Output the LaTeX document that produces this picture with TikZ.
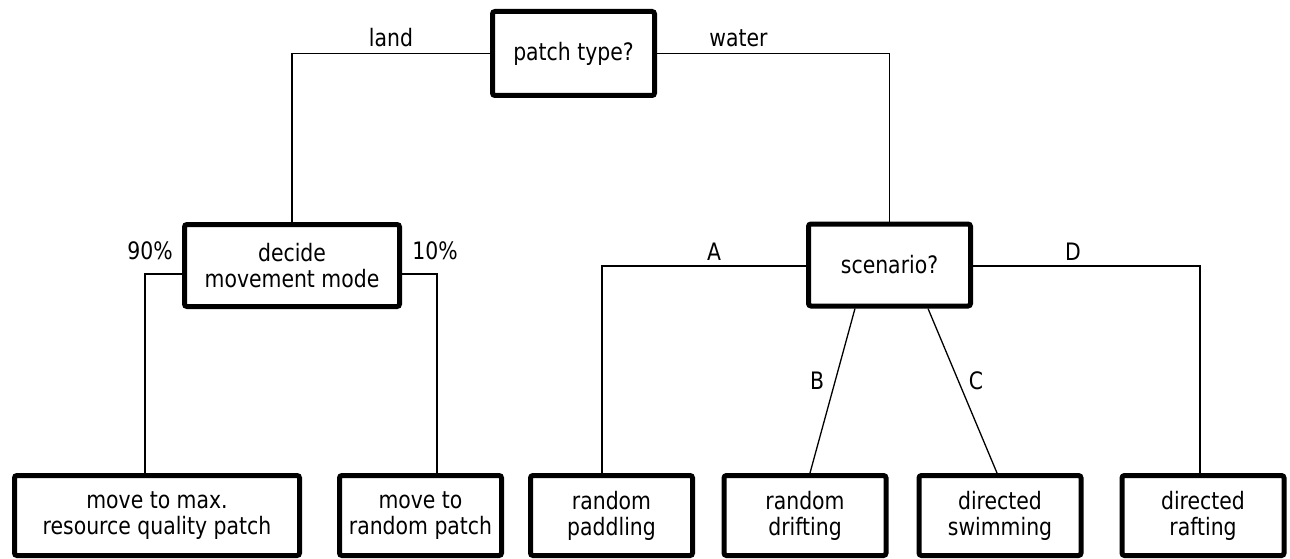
\documentclass[tikz,border=0pt]{standalone}
\usepackage{fontspec}
\setmainfont{DejaVu Sans}[FakeStretch=0.85]
\usepackage{tikz}
\usetikzlibrary{
arrows.meta,
positioning
}
\definecolor{treeink}{RGB}{0,0,0}

\begin{document}
\begin{tikzpicture}[
  x=1pt, y=-1pt,
  every node/.style={font=\fontsize{24}{26}\selectfont, text=treeink},
  box/.style={draw=treeink, line width=5pt, rounded corners=2.5pt,
    align=center, inner sep=0pt, minimum width=162pt, minimum height=80pt},
  link/.style={draw=treeink, line width=1.3pt}
]
\useasboundingbox (0,0) rectangle (1290,559);

%% ── DECISION NODES ──────────────────────────────────────────────
\node[box, minimum height=84pt] (patch) at (573.5,53.5) {patch type?};
\node[box, minimum width=215pt, minimum height=82pt] (decide) at (292,265.5) {decide\\movement mode};
\node[box, minimum height=82pt] (scen) at (889.5,265) {scenario?};

%% ── MOVEMENT OUTCOMES ───────────────────────────────────────────
\node[box, minimum width=285pt] (maxq) at (157,515.5) {move to max.\\resource quality patch};
\node[box] (rndp)  at (420.5,515.5) {move to\\random patch};
\node[box] (paddl) at (611.5,515.5) {random\\paddling};
\node[box] (drift) at (805,515.5)   {random\\drifting};
\node[box] (swim)  at (1000,515.5)  {directed\\swimming};
\node[box] (raft)  at (1203,515.5)  {directed\\rafting};

%% ── LAND / WATER ────────────────────────────────────────────────
\draw[link] (patch.west) -| (decide.north)
  node[pos=0.25, above=3pt] (lland) {land};
\draw[link] (patch.east) -| (scen.north)
  node[pos=0.175, above=3pt] (lwater) {water};

%% ── LAND BRANCHES ───────────────────────────────────────────────
\draw[link] ([yshift=-8.5pt]decide.west) -| ([xshift=-12pt]maxq.north);
\draw[link] ([yshift=-8.5pt]decide.east) -| ([xshift=16.5pt]rndp.north);
\node (p90) at (150,251) {90\%};
\node (p10) at (435,251) {10\%};

%% ── WATER SCENARIOS ─────────────────────────────────────────────
\draw[link] ([yshift=-1pt]scen.west) -| ([xshift=-9.5pt]paddl.north);
\draw[link] ([yshift=-1pt]scen.east) -| ([xshift=-3pt]raft.north);
\draw[link] ([xshift=-34.5pt]scen.south) -- ([xshift=5pt]drift.north);
\draw[link] ([xshift=38.5pt]scen.south) -- ([xshift=-3pt]swim.north);
\node (sA) at (714,252) {A};
\node (sB) at (817,381) {B};
\node (sC) at (976,381) {C};
\node (sD) at (1073,252) {D};

\end{tikzpicture}
\end{document}
